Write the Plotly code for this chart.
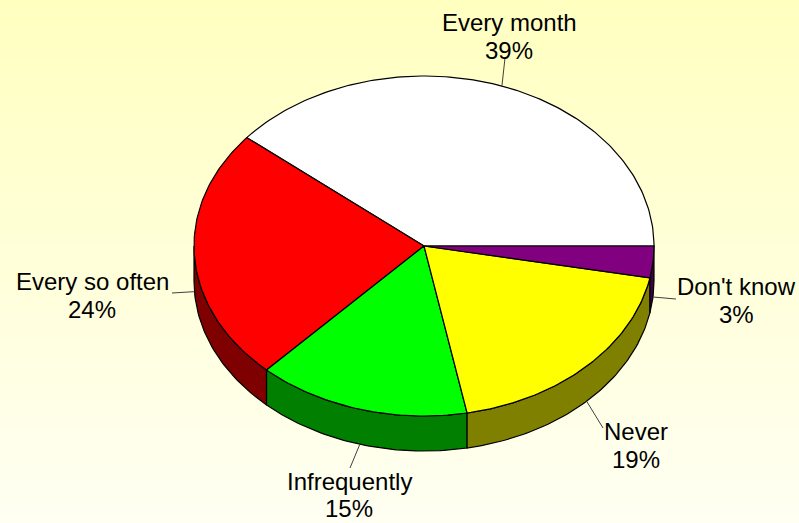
import numpy as np
import plotly.graph_objects as go

# ---- data ----
labels = ["Every month", "Every so often", "Infrequently", "Never", "Don't know"]
values = [39, 24, 15, 19, 3]
pct_text = ["39%", "24%", "15%", "19%", "3%"]

# ---- styles ----
top_colors = ["#FFFFFF", "#FF0000", "#00FF00", "#FFFF00", "#800080"]
side_colors = ["#7F7F7F", "#7F0000", "#007F00", "#7F7F00", "#400040"]

# pie geometry (pixel-like plot coordinates)
CX, CY, RX, RY, DEPTH = 424, 246, 230, 170, 35
W, H = 799, 523

# label layout: (name center x, name y, pct y, leader end x, leader end y)
label_layout = [
    (509, 22, 50, 505, 58),
    (92, 281, 309, 172, 293),
    (349, 481, 508, 350, 468),
    (636, 431, 459, 603, 428),
    (736, 286, 314, 676, 299),
]

fig = go.Figure()


def arc(t0, t1, dy=0.0, n=None):
    if n is None:
        n = max(int(abs(t1 - t0) / 1.0) + 2, 3)
    t = np.radians(np.linspace(t0, t1, n))
    return CX + RX * np.cos(t), CY - RY * np.sin(t) + dy


total = float(sum(values))
angles = np.concatenate([[0.0], np.cumsum(values) / total * 360.0])

# side walls (visible lower half, 180..360 deg)
for i in range(len(values)):
    a0, a1 = angles[i], angles[i + 1]
    s0, s1 = max(a0, 180.0), min(a1, 360.0)
    if s1 <= s0:
        continue
    xt, yt = arc(s0, s1)
    xb, yb = arc(s1, s0, dy=DEPTH)
    xs = np.concatenate([xt, xb, [xt[0]]])
    ys = np.concatenate([yt, yb, [yt[0]]])
    fig.add_trace(go.Scatter(x=xs, y=ys, mode="lines", fill="toself",
                             fillcolor=side_colors[i],
                             line=dict(color="black", width=1.2),
                             hoverinfo="skip", showlegend=False))

# top faces
for i in range(len(values)):
    a0, a1 = angles[i], angles[i + 1]
    xa, ya = arc(a0, a1)
    xs = np.concatenate([[CX], xa, [CX]])
    ys = np.concatenate([[CY], ya, [CY]])
    fig.add_trace(go.Scatter(x=xs, y=ys, mode="lines", fill="toself",
                             fillcolor=top_colors[i],
                             line=dict(color="black", width=1.2),
                             hoverinfo="text", text=f"{labels[i]}: {pct_text[i]}",
                             showlegend=False))

# labels + leader lines
font = dict(family="Liberation Sans, Arial, sans-serif", size=24, color="black")
for i in range(len(values)):
    mid = (angles[i] + angles[i + 1]) / 2.0
    t = np.radians(mid)
    ax_ = CX + RX * np.cos(t)
    ay_ = CY - RY * np.sin(t) + (DEPTH if np.sin(t) < 0 else 0)
    nx, ny, py, lx, ly = label_layout[i]
    fig.add_trace(go.Scatter(x=[ax_, lx], y=[ay_, ly], mode="lines",
                             line=dict(color="#404040", width=1),
                             hoverinfo="skip", showlegend=False))
    fig.add_annotation(x=nx, y=ny, text=labels[i], showarrow=False,
                       xanchor="center", yanchor="middle", font=font)
    fig.add_annotation(x=nx, y=py, text=pct_text[i], showarrow=False,
                       xanchor="center", yanchor="middle", font=font)

# background gradient bands
nb = 60
shapes = []
c_top = np.array([255, 255, 192])
c_bot = np.array([255, 255, 242])
for k in range(nb):
    f = k / (nb - 1)
    c = (c_top * (1 - f) + c_bot * f).round().astype(int)
    shapes.append(dict(type="rect", xref="paper", yref="paper",
                       x0=0, x1=1, y0=1 - (k + 1) / nb - 0.001, y1=1 - k / nb,
                       fillcolor=f"rgb({c[0]},{c[1]},{c[2]})",
                       line=dict(width=0), layer="below"))

fig.update_layout(
    width=W, height=H,
    margin=dict(l=0, r=0, t=0, b=0),
    paper_bgcolor="#FFFFF0", plot_bgcolor="rgba(0,0,0,0)",
    shapes=shapes,
    xaxis=dict(range=[0, W], visible=False, fixedrange=True),
    yaxis=dict(range=[H, 0], visible=False, fixedrange=True),
    showlegend=False,
)

fig.write_html("out.html", config={"displayModeBar": False},
               post_script="document.body.style.margin='0px';"
                           "document.body.style.overflow='hidden';")
